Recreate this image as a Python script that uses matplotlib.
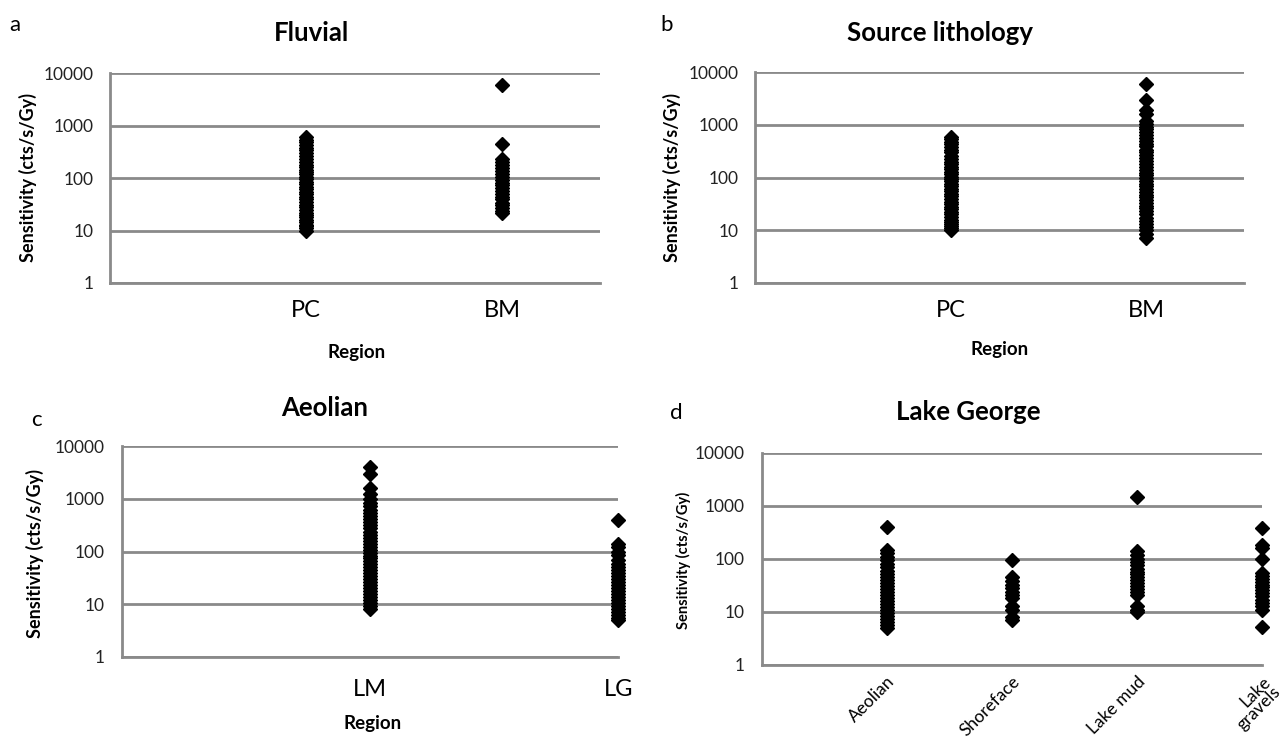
import numpy as np
import matplotlib.pyplot as plt

plt.rcParams['font.family'] = ['Lato', 'DejaVu Sans']

# --- data (sensitivity, cts/s/Gy) ---
fluv_cats = ['PC', 'BM']
fluv_pc = [600, 540, 480, 430, 380, 340, 300, 260, 230, 200, 180, 160, 145, 130,
           118, 105, 95, 85, 76, 68, 61, 55, 49, 44, 39, 35, 31, 28, 25, 22, 20,
           18, 16, 14.5, 13, 12, 11, 10]
fluv_bm = [6000, 450, 230, 200, 175, 155, 135, 118, 105, 92, 82, 72, 64, 57, 50,
           44, 39, 34, 30, 27, 24, 22]

src_cats = ['PC', 'BM']
src_pc = [600, 540, 480, 430, 380, 340, 300, 260, 225, 200, 180, 160, 145, 130,
          118, 105, 95, 85, 76, 68, 61, 55, 49, 44, 39, 35, 31, 28, 25, 22, 20,
          18, 16, 14.5, 13, 12, 11, 10]
src_bm = [6000, 3000, 1900, 1600, 1200, 1050, 930, 820, 720, 640, 560, 500, 440,
          390, 340, 300, 265, 235, 205, 180, 160, 140, 125, 110, 98, 87, 77, 68,
          60, 53, 47, 42, 37, 33, 29, 26, 23, 20, 17, 15, 13, 11.5, 10, 8.5, 7]

aeol_cats = ['LM', 'LG']
aeol_lm = [4000, 3000, 1600, 1250, 1000, 850, 720, 620, 540, 470, 410, 360, 315,
           275, 240, 210, 185, 160, 140, 123, 108, 95, 84, 74, 65, 57, 50, 44,
           39, 34, 30, 26, 23, 20, 17.5, 15.5, 13.5, 12, 10.5, 9.3, 8]
aeol_lg = [400, 140, 120, 100, 85, 70, 58, 50, 44, 39, 34, 30, 26, 23, 20, 17.5,
           15.5, 13.5, 12, 10.5, 9.3, 8.2, 7.2, 6.3, 5.5, 5]

lg_cats = ['Aeolian', 'Shoreface', 'Lake mud', 'Lake\ngravels']
lg_aeolian = [400, 150, 130, 110, 95, 82, 70, 60, 52, 46, 40, 35, 31, 27, 24, 21,
              18.5, 16, 14, 12.5, 11, 9.7, 8.5, 7.5, 6.6, 5.8, 5]
lg_shoreface = [95, 45, 38, 32, 28, 24, 21, 18, 13, 11, 8, 7.2]
lg_lakemud = [1500, 140, 120, 100, 88, 76, 66, 58, 51, 45, 40, 35, 31, 27, 24,
              21, 13, 11, 9.8]
lg_gravels = [380, 180, 160, 100, 55, 48, 42, 37, 33, 29, 26, 23, 20, 17, 15,
              13, 11, 5.2]

GRID = '#8a8a8a'

fig = plt.figure(figsize=(12.8, 7.42), dpi=100)

def make_ax(rect, cats, series, xmax):
    ax = fig.add_axes(rect)
    for i, vals in enumerate(series):
        xs = np.full(len(vals), i + 1.0)
        ax.plot(xs, vals, linestyle='none', marker='D', markersize=7.5,
                color='black', clip_on=False, zorder=3)
    ax.set_yscale('log')
    ax.set_ylim(1, 10000)
    ax.set_xlim(0, xmax)
    ax.set_yticks([1, 10, 100, 1000, 10000])
    ax.set_yticklabels(['1', '10', '100', '1000', '10000'], fontsize=12.5,
                       color='#222222')
    ax.minorticks_off()
    ax.set_xticks(range(1, len(cats) + 1))
    ax.tick_params(length=0, pad=12)
    ax.yaxis.grid(True, color=GRID, linewidth=2)
    ax.set_axisbelow(True)
    for s in ['top', 'right']:
        ax.spines[s].set_visible(False)
    ax.spines['bottom'].set_color(GRID)
    ax.spines['bottom'].set_linewidth(2)
    ax.spines['left'].set_color(GRID)
    ax.spines['left'].set_linewidth(2)
    return ax

ax_a = make_ax([0.086, 0.6186, 0.383, 0.283], fluv_cats, [fluv_pc, fluv_bm], 2.5)
ax_a.set_xticklabels(fluv_cats, fontsize=17)
ax_b = make_ax([0.590, 0.6186, 0.382, 0.284], src_cats, [src_pc, src_bm], 2.5)
ax_b.set_xticklabels(src_cats, fontsize=17)
ax_c = make_ax([0.095, 0.1146, 0.388, 0.284], aeol_cats, [aeol_lm, aeol_lg], 2)
ax_c.set_xticklabels(aeol_cats, fontsize=17)
ax_c.tick_params(axis='x', pad=16)
ax_d = make_ax([0.595, 0.1038, 0.391, 0.2857], lg_cats,
               [lg_aeolian, lg_shoreface, lg_lakemud, lg_gravels], 4)
ax_d.set_xticklabels(lg_cats, fontsize=12.5, rotation=45, ha='right',
                     rotation_mode='anchor', linespacing=0.9)
ax_d.tick_params(axis='x', pad=6)

# titles
fig.text(312 / 1280, 1 - 33 / 742, 'Fluvial', ha='center', va='center', fontsize=18.5, weight='bold')
fig.text(940 / 1280, 1 - 33 / 742, 'Source lithology', ha='center', va='center', fontsize=18.5, weight='bold')
fig.text(325 / 1280, 1 - 408 / 742, 'Aeolian', ha='center', va='center', fontsize=18.5, weight='bold')
fig.text(968 / 1280, 1 - 412 / 742, 'Lake George', ha='center', va='center', fontsize=18.5, weight='bold')

# panel letters
fig.text(15 / 1280, 1 - 25 / 742, 'a', ha='center', va='center', fontsize=16)
fig.text(667 / 1280, 1 - 25 / 742, 'b', ha='center', va='center', fontsize=16)
fig.text(36 / 1280, 1 - 420 / 742, 'c', ha='center', va='center', fontsize=16)
fig.text(676 / 1280, 1 - 413 / 742, 'd', ha='center', va='center', fontsize=16)

# axis labels
ylab = 'Sensitivity (cts/s/Gy)'
fig.text(28 / 1280, 1 - 178 / 742, ylab, rotation=90, ha='center', va='center', fontsize=13, weight='bold')
fig.text(672 / 1280, 1 - 178 / 742, ylab, rotation=90, ha='center', va='center', fontsize=13, weight='bold')
fig.text(35 / 1280, 1 - 553 / 742, ylab, rotation=90, ha='center', va='center', fontsize=13, weight='bold')
fig.text(683 / 1280, 1 - 560 / 742, ylab, rotation=90, ha='center', va='center', fontsize=10.5, weight='bold')

fig.text(357 / 1280, 1 - 352 / 742, 'Region', ha='center', va='center', fontsize=13.5, weight='bold')
fig.text(1000 / 1280, 1 - 350 / 742, 'Region', ha='center', va='center', fontsize=13.5, weight='bold')
fig.text(373 / 1280, 1 - 723 / 742, 'Region', ha='center', va='center', fontsize=13.5, weight='bold')

fig.savefig('out.png', dpi=100)
